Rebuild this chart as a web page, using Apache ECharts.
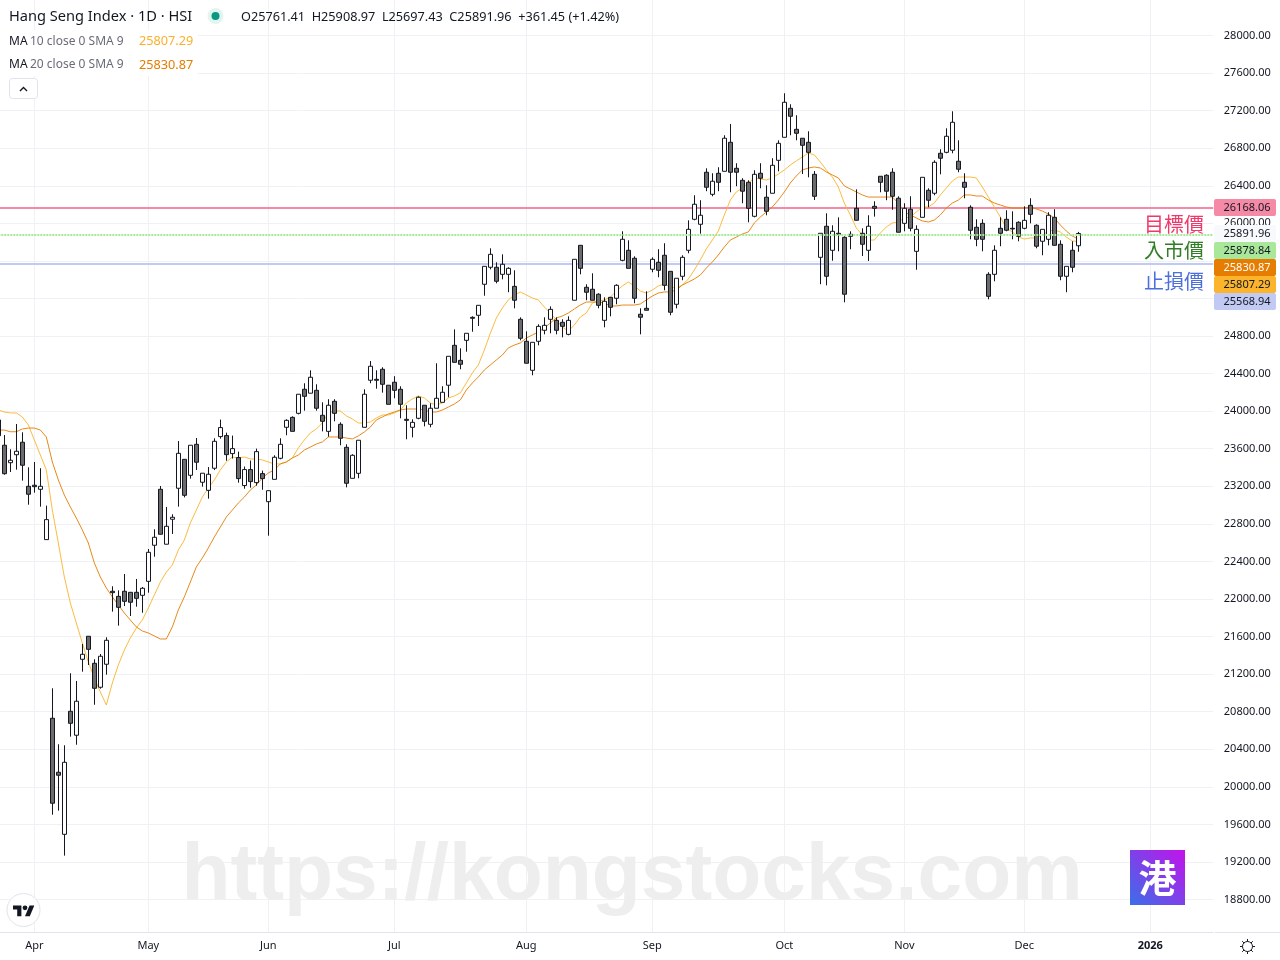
<!DOCTYPE html>
<html><head><meta charset="utf-8"><title>Hang Seng Index</title>
<script src="https://cdn.jsdelivr.net/npm/echarts@6/dist/echarts.min.js"></script>
<style>html,body{margin:0;padding:0;background:#fff}#c{width:1280px;height:960px}</style></head>
<body><div id="c"></div>
<script>
const opens=[23906,23637,23451,23536,23669,23200,23211,23168,22632,20730,20155,19494,20804,20549,21358,21603,21315,21060,21305,22082,22028,22082,22071,22071,22039,22188,22572,23168,22583,22849,23179,23487,23317,23647,23243,23157,23392,23729,23740,23548,23506,23208,23378,23239,23335,23036,23274,23498,23828,23934,23977,24233,24191,24222,23956,23785,24105,23860,23615,23285,23338,23828,24329,24339,24446,24276,24308,24233,23913,23828,23924,24063,23860,24031,24094,24276,24701,24541,24754,24999,25021,25351,25532,25532,25457,25457,25329,24978,24744,24435,24744,24861,24978,24967,24946,24818,25181,25766,25319,25298,25245,24967,25212,25202,25606,25713,25628,25032,25095,25511,25585,25660,25489,25138,25436,25713,26043,25990,26544,26309,26533,26554,26863,26586,26458,26437,26075,26533,26278,26320,26671,26916,27225,27001,26906,26863,26522,25638,25969,25713,25894,25851,25883,26160,25894,25713,26181,26501,26512,26544,26267,26000,26150,25702,26064,26352,26320,26746,26756,26778,26661,26437,26171,25958,26000,25457,25457,25947,26043,25947,26011,25947,26192,25979,25809,25830,26064,25777,25436,25713,25761.41];
const closes=[23739,23334,23477,23573,23424,23115,23196,23200,22845,19825,20123,20261,20676,20911,21411,21464,21049,21390,21560,22067,21911,21975,21965,22007,22114,22497,22657,22689,22774,22870,23551,23104,23637,23456,23339,23328,23679,23825,23537,23601,23282,23378,23250,23569,23282,23153,23509,23647,23902,23785,24180,24158,24361,24031,23892,24063,23977,23711,23232,23530,23690,24180,24478,24329,24286,24073,24222,24073,23902,23881,24148,23892,24031,24137,24201,24584,24520,24499,24829,24989,25127,25542,25670,25383,25564,25521,25181,24776,24510,24733,24903,24914,25084,24861,24903,24967,25617,25521,25266,25181,25127,25170,25106,25340,25830,25521,25202,25000,25074,25617,25500,25340,25053,25415,25638,25936,26203,26086,26384,26448,26437,26906,26544,26544,26342,26160,26522,26480,26128,26618,26852,27289,27140,26959,26831,26756,26288,25894,25436,25915,25883,25245,25862,26032,25777,25969,26160,26437,26342,26288,25905,26160,25947,25936,26490,26246,26650,26693,26927,27076,26576,26384,25926,25830,25830,25223,25713,25894,25926,25940,25862,26032,26096,25756,25936,26086,25766,25436,25542,25532,25891.96];
const lows=[23739,23323,23352,23377,23260,23004,23132,22983,22632,19703,19746,19267,20534,20448,21226,21297,20874,21045,21194,21865,21716,21925,21819,21918,21854,22067,22450,22689,22583,22692,22983,23082,23281,23373,23196,23068,23373,23707,23472,23495,23238,23174,23185,23206,23163,22674,23274,23487,23743,23785,23966,24005,24191,24005,23785,23728,23892,23637,23189,23285,23285,23828,24297,24239,24197,24073,24137,23924,23700,23721,23913,23838,23828,24031,24094,24148,24520,24446,24633,24846,24907,25229,25510,25361,25404,25266,25095,24754,24510,24382,24701,24818,24829,24818,24786,24808,25181,25457,25181,25181,25095,24893,25010,25138,25596,25521,25149,24818,25074,25479,25426,25287,25021,25095,25394,25681,26032,25890,26342,26288,26342,26554,26331,26395,26214,26011,26064,26373,26086,26320,26554,26916,26938,26884,26525,26490,26248,25351,25340,25602,25702,25159,25724,26032,25652,25599,26071,26331,26246,26145,25905,25915,25915,25506,26064,26171,26299,26522,26746,26746,26544,26267,25830,25756,25702,25191,25383,25756,25915,25830,25809,25936,26000,25734,25660,25766,25766,25394,25266,25479,25697.43];
const highs=[23906,23746,23594,23863,23775,23402,23459,23392,22994,21049,20453,20442,21209,21127,21521,21603,21358,21414,21592,22135,22092,22266,22071,22213,22128,22532,22742,23203,22980,22902,23682,23487,23637,23714,23339,23405,23711,23910,23771,23740,23569,23410,23474,23601,23367,23153,23530,23711,23913,23945,24180,24297,24435,24286,24094,24127,24127,23881,23647,23541,23690,24233,24534,24435,24467,24276,24372,24265,24063,23913,24158,24063,24084,24510,24265,24584,24871,24669,24829,25010,25127,25542,25734,25585,25670,25532,25500,24999,24850,24733,24925,24999,25116,24999,24978,25010,25617,25766,25351,25468,25255,25212,25212,25351,25915,25819,25649,25095,25276,25638,25724,25788,25489,25415,25660,26032,26299,26246,26586,26533,26597,26938,27058,26640,26480,26458,26565,26640,26405,26693,26884,27385,27268,27151,26906,26980,26557,25894,26107,25979,26064,25862,25915,26362,25947,26086,26235,26501,26522,26586,26288,26214,26288,25979,26490,26373,26671,26789,27012,27193,26884,26533,26192,26043,26043,25479,25766,26064,26139,26128,26021,26181,26267,25990,25936,26118,26150,25819,25542,25809,25908.97];
const ma10=[24012,23991,23981,23981,23938,23853,23693,23533,23374,22947,22596,22234,21957,21744,21531,21329,21158,21009,20871,21105,21297,21456,21584,21691,21776,21904,22042,22180,22287,22362,22521,22628,22809,22947,23085,23181,23267,23374,23459,23512,23501,23512,23491,23491,23480,23459,23438,23438,23459,23501,23608,23693,23768,23810,23874,23981,24002,24002,23949,23917,23874,23874,23885,23927,23959,23959,23981,24012,24087,24130,24162,24140,24087,24066,24087,24140,24162,24194,24300,24406,24492,24651,24829,24992,25098,25184,25237,25269,25237,25205,25184,25109,25045,24971,24896,24854,24917,25003,25045,25152,25173,25184,25215,25279,25333,25375,25333,25279,25258,25290,25333,25354,25322,25311,25343,25407,25503,25610,25727,25822,25918,26089,26248,26334,26376,26430,26483,26472,26462,26483,26525,26568,26621,26664,26706,26749,26728,26653,26568,26493,26387,26216,26089,25950,25876,25822,25822,25897,25961,26004,26014,26057,26067,26121,26174,26174,26216,26302,26376,26451,26493,26493,26493,26483,26387,26280,26174,26067,25950,25908,25854,25833,25844,25844,25876,25918,25929,25908,25854,25812,25807.29];
const ma20=[23799,23799,23781,23781,23810,23820,23820,23799,23725,23459,23267,23107,22980,22862,22735,22596,22384,22234,22117,22022,21936,21851,21776,21702,21659,21638,21606,21574,21574,21702,21883,22022,22180,22341,22436,22543,22660,22766,22873,22947,23022,23085,23160,23214,23288,23342,23374,23438,23459,23501,23533,23586,23618,23650,23672,23725,23725,23725,23714,23704,23736,23778,23831,23906,23938,23970,23991,24012,24023,24023,24023,24012,23991,23991,24012,24044,24076,24119,24225,24300,24364,24438,24492,24545,24598,24673,24704,24726,24779,24811,24843,24885,24939,24992,25013,25045,25088,25130,25162,25162,25162,25152,25120,25120,25130,25130,25130,25141,25184,25226,25258,25269,25269,25290,25343,25375,25407,25450,25524,25588,25663,25748,25822,25854,25886,25908,26004,26067,26121,26174,26248,26334,26430,26504,26568,26589,26600,26589,26547,26515,26483,26398,26366,26334,26302,26280,26280,26280,26280,26280,26216,26121,26089,26057,26025,26014,26035,26089,26163,26216,26248,26302,26302,26291,26291,26248,26216,26195,26174,26163,26163,26163,26174,26153,26131,26099,26057,25982,25918,25865,25830.87];
const monthIndexes=[6,25,45,66,88,109,131,151,171,192];
const monthLabels=['Apr','May','Jun','Jul','Aug','Sep','Oct','Nov','Dec','2026'];
const tagTexts=['26168.06','25891.96','25878.84','25830.87','25807.29','25568.94'];
const targetPrice=26168.06, entryPrice=25878.84, stopPrice=25568.94;

const categories=Array.from({length:203},(_,i)=>{const k=monthIndexes.indexOf(i);return k<0?'':monthLabels[k];});
const candles=opens.map((o,i)=>[o,closes[i],lows[i],highs[i]]);
const isMonth=i=>monthIndexes.indexOf(i)>=0;
const ff='"Noto Sans","Open Sans",sans-serif';
const cjk='"Noto Sans CJK TC","Noto Sans CJK SC",sans-serif';
const grid='#f0f1f5', ink='#131722';

const tagColors=['#f48aa6','#f8f9fd','#a9e89b','#e67c00','#fbb42b','#c1caf2'];
const tagInk=[ink,ink,ink,'#ffffff',ink,ink];
const tagCenters=[207.5,233.5,250.5,267.5,284.5,301.5];

const g=[];
function txt(t,x,y,o,z){return {type:'text',z:z||10,silent:true,style:Object.assign({text:t,x:x,y:y,fill:ink,font:'12px '+ff,textVerticalAlign:'middle',textAlign:'left'},o||{})};}
function line(x1,y1,x2,y2){return {type:'line',z:10,silent:true,shape:{x1,y1,x2,y2},style:{stroke:ink,lineWidth:1}};}
// white covers
g.push({type:'rect',z:1,silent:true,shape:{x:0,y:932,width:1280,height:28},style:{fill:'#fff'}});
g.push({type:'rect',z:1,silent:true,shape:{x:0,y:30,width:198,height:46},style:{fill:'#fff'}});
g.push({type:'line',z:6,silent:true,shape:{x1:1215,y1:932.5,x2:1280,y2:932.5},style:{stroke:'#e0e3eb',lineWidth:1}});
// watermark
g.push({type:'text',z:1,silent:true,style:{text:'https://kongstocks.com',x:632,y:876.5,textAlign:'center',textVerticalAlign:'middle',fill:'#eeeeee',font:'bold 80.3px "Liberation Sans",Arial,sans-serif'}});
// header
g.push(txt('Hang Seng Index · 1D · HSI',9,17,{font:'14.6px '+ff}));
g.push({type:'circle',z:10,silent:true,shape:{cx:215.5,cy:16,r:8},style:{fill:'#e3f4f1'}});
g.push({type:'circle',z:10,silent:true,shape:{cx:215.5,cy:16,r:4},style:{fill:'#089981'}});
g.push(txt('O25761.41  H25908.97  L25697.43  C25891.96  +361.45 (+1.42%)',241,17,{font:'12.7px '+ff}));
g.push(txt('MA',9,41.5,{font:'12px '+ff}));
g.push(txt('10 close 0 SMA 9',30,41.5,{font:'12px '+ff,fill:'#6a6d78'}));
g.push(txt('25807.29',139,41.5,{font:'12.7px '+ff,fill:'#fbb02b'}));
g.push(txt('MA',9,65,{font:'12px '+ff}));
g.push(txt('20 close 0 SMA 9',30,65,{font:'12px '+ff,fill:'#6a6d78'}));
g.push(txt('25830.87',139,65,{font:'12.7px '+ff,fill:'#e67c00'}));
g.push({type:'rect',z:10,silent:true,shape:{x:9.5,y:78.5,width:28,height:20,r:3},style:{fill:'#fff',stroke:'#e0e3eb',lineWidth:1}});
g.push({type:'polyline',z:10,silent:true,shape:{points:[[20,91],[23.5,87.5],[27,91]]},style:{fill:null,stroke:ink,lineWidth:1.4}});
// CJK notes
g.push(txt('目標價',1204,224,{font:'20px '+cjk,textAlign:'right',fill:'#f0386b'}));
g.push(txt('入市價',1204,250.5,{font:'20px '+cjk,textAlign:'right',fill:'#2f7d24'}));
g.push(txt('止損價',1204,281,{font:'20px '+cjk,textAlign:'right',fill:'#4c6fdd'}));
// price tags
tagTexts.forEach((t,i)=>{
 g.push({type:'rect',z:11,silent:true,shape:{x:1214,y:tagCenters[i]-8.5,width:62,height:17,r:2},style:{fill:tagColors[i]}});
 g.push(txt(t,1247,tagCenters[i]+0.5,{textAlign:'center',font:'11px '+ff,fill:tagInk[i]},12));
});
// logo
g.push({type:'rect',z:10,silent:true,shape:{x:1130,y:850,width:55,height:55},style:{fill:new echarts.graphic.LinearGradient(0,1,1,0,[{offset:0,color:'#3a6fe8'},{offset:1,color:'#c412ea'}])}});
g.push(txt('港',1157.5,878,{font:'bold 38px '+cjk,fill:'#ffffff',textAlign:'center'},11));
// TV badge
g.push({type:'circle',z:10,silent:true,shape:{cx:23.5,cy:910,r:16.5},style:{fill:'#fff',stroke:'#e0e3eb',lineWidth:1}});
g.push({type:'polygon',z:11,silent:true,shape:{points:[[13,905.4],[21.4,905.4],[21.4,916.2],[17.2,916.2],[17.2,909.6],[13,909.6]]},style:{fill:ink}});
g.push({type:'polygon',z:11,silent:true,shape:{points:[[25,916.2],[29.5,905.4],[34.3,905.4],[29.8,916.2]]},style:{fill:ink}});
g.push({type:'circle',z:11,silent:true,shape:{cx:25,cy:907.8,r:2.4},style:{fill:ink}});
// settings icon
g.push({type:'circle',z:10,silent:true,shape:{cx:1247.5,cy:946.5,r:5},style:{fill:'#fff',stroke:ink,lineWidth:1}});
[[1247.5,939,1247.5,941.5],[1247.5,951.5,1247.5,954],[1240,946.5,1242.5,946.5],[1252.5,946.5,1255,946.5],[1242.2,941.2,1244,943],[1251,950,1252.8,951.8],[1242.2,951.8,1244,950],[1251,943,1252.8,941.2]].forEach(p=>g.push(line(p[0],p[1],p[2],p[3])));

const chart=echarts.init(document.getElementById('c'),null,{renderer:'canvas',width:1280,height:960});
chart.setOption({
 animation:false,
 backgroundColor:'#ffffff',
 textStyle:{fontFamily:ff},
 grid:{left:-4.67,top:-2.06,width:1218,height:939.12,containLabel:false,show:false,outerBoundsMode:'none'},
 xAxis:[
  {type:'category',data:categories,position:'bottom',z:0,boundaryGap:true,
   axisLine:{show:false},axisTick:{show:false},axisLabel:{show:false},
   splitLine:{show:true,alignWithLabel:true,interval:(i)=>isMonth(i),lineStyle:{color:grid,width:1}}},
  {type:'category',data:categories,position:'bottom',z:5,offset:-5,boundaryGap:true,
   axisLine:{show:true,lineStyle:{color:'#e0e3eb',width:1}},axisTick:{show:false},splitLine:{show:false},
   axisLabel:{show:true,interval:(i)=>isMonth(i),margin:8,fontSize:11,color:ink,fontFamily:ff,hideOverlap:false,
     formatter:(v)=>v==='2026'?'{b|2026}':v,rich:{b:{fontWeight:'bold',fontSize:11,color:ink,fontFamily:ff}}}}
 ],
 yAxis:{type:'value',position:'right',min:18400,max:28400,interval:400,scale:true,
   axisLine:{show:false},axisTick:{show:false},
   splitLine:{show:true,lineStyle:{color:grid,width:1}},
   axisLabel:{show:true,margin:10.5,fontSize:11,color:ink,fontFamily:ff,padding:[2,0,0,0],
     formatter:(v)=>(v<18800||v>28000)?'':v.toFixed(2)}},
 series:[
  {name:'levels',type:'line',data:[],z:1,silent:true,
   markLine:{z:1,silent:true,symbol:'none',animation:false,label:{show:false},
     data:[{yAxis:targetPrice,lineStyle:{color:'#f48aa6',width:2,type:'solid'}},
           {yAxis:stopPrice,lineStyle:{color:'#c1caf2',width:2,type:'solid'}}]}},
  {name:'entry',type:'line',data:[],z:6,silent:true,
   markLine:{z:6,silent:true,symbol:'none',animation:false,label:{show:false},
     data:[{yAxis:entryPrice,lineStyle:{color:'#a5e898',width:2,type:[2,1]}}]}},
  {name:'MA 10',type:'line',data:ma10,z:2,symbol:'none',showSymbol:false,smooth:false,silent:true,lineStyle:{color:'#fbb42b',width:1,opacity:.9}},
  {name:'MA 20',type:'line',data:ma20,z:2,symbol:'none',showSymbol:false,smooth:false,silent:true,lineStyle:{color:'#e67c00',width:1,opacity:.9}},
  {name:'HSI',type:'candlestick',data:candles,z:3,barWidth:4,silent:true,
   itemStyle:{color:'#ffffff',color0:'#6b6b6b',borderColor:'#131722',borderColor0:'#131722',borderColorDoji:'#131722',borderWidth:1}}
 ],
 graphic:{elements:g}
});
</script></body></html>
